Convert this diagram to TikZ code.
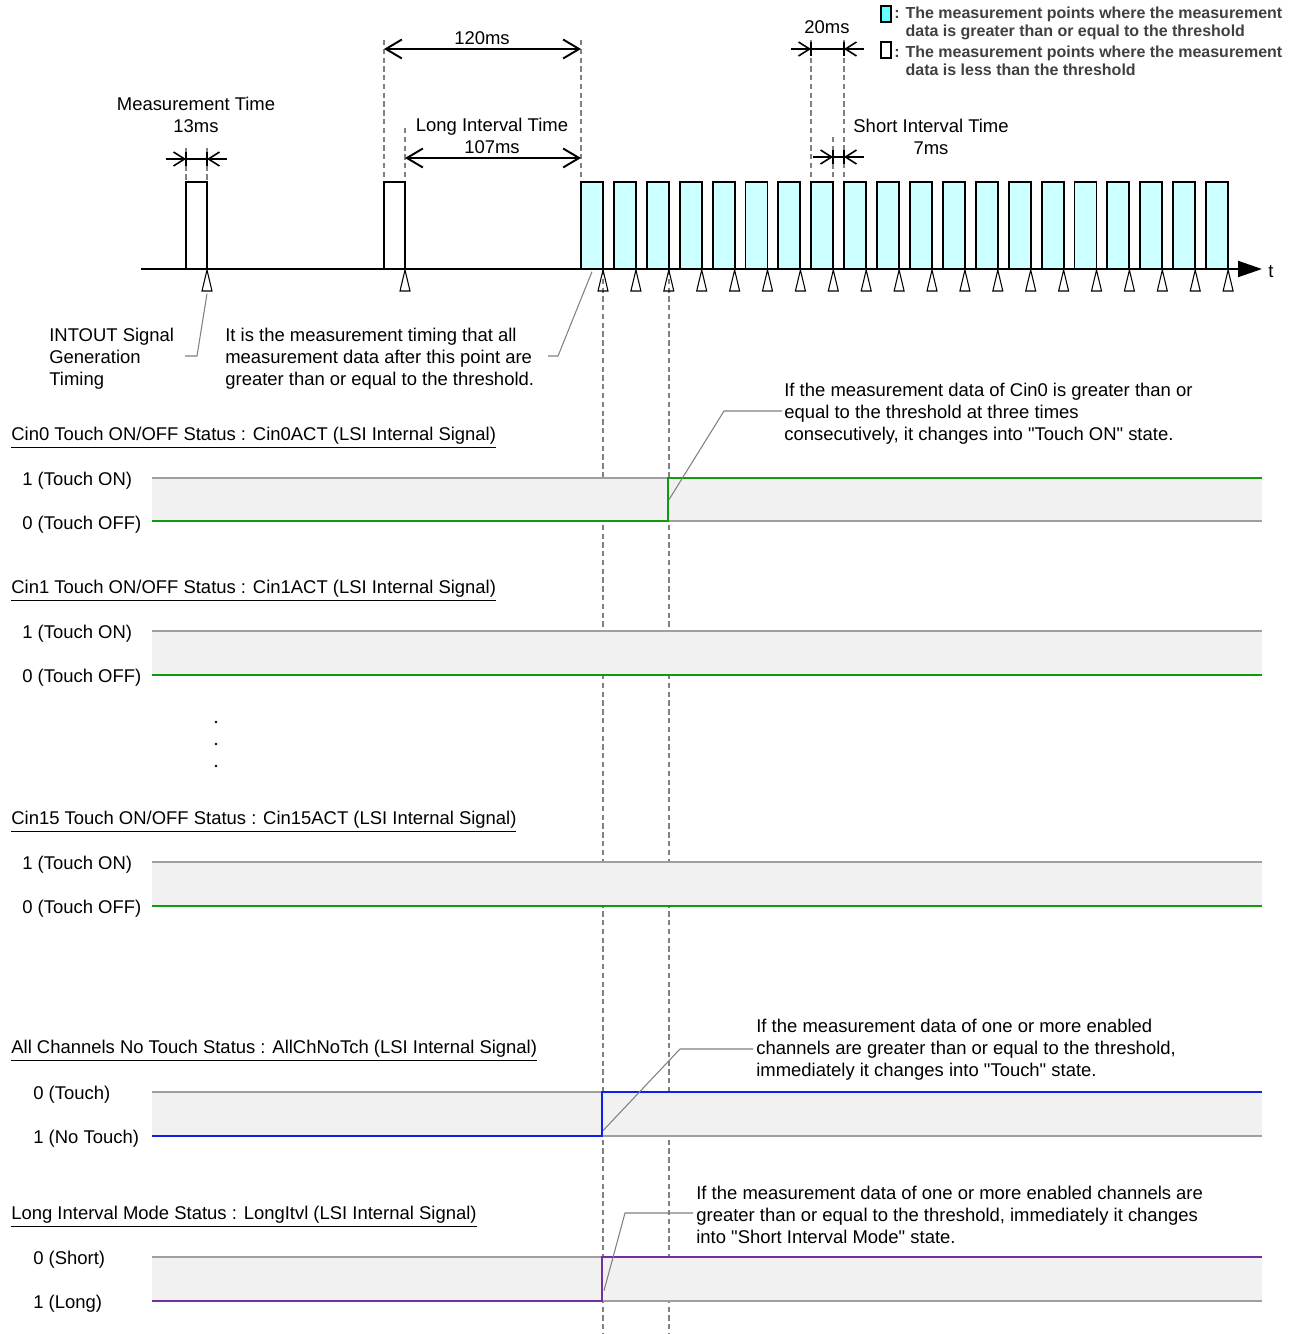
\documentclass[tikz,border=0pt]{standalone}
\usepackage{fontspec}
\setmainfont{Liberation Sans}
\usepackage{tikz}
\usetikzlibrary{arrows.meta,positioning}
\definecolor{PulseCyan}{HTML}{CCFFFF}
\definecolor{KeyCyan}{HTML}{66FFFF}
\definecolor{SigGreen}{HTML}{109A10}
\definecolor{SigBlue}{HTML}{1020E8}
\definecolor{SigPurple}{HTML}{7030A0}
\definecolor{BandGray}{HTML}{F1F1F1}
\definecolor{NoteGray}{HTML}{808080}
\definecolor{KeyText}{HTML}{404040}

\begin{document}
\begin{tikzpicture}[x=0.02cm, y=-0.02cm, every node/.style={font=\fontsize{10.5}{12.6}\selectfont, inner sep=0pt, yshift=-1.5pt}, pulse/.style={draw, line width=1.1pt}, trimark/.style={draw, line width=0.6pt}, guide/.style={densely dashed, color=NoteGray, line width=0.6pt}, dimarr/.style={{Straight Barb[length=3.2mm,width=3.8mm]}-{Straight Barb[length=3.2mm,width=3.8mm]}, line width=1.1pt}, inarr/.style={-{Straight Barb[length=2.2mm,width=2.8mm]}, line width=0.9pt}, band/.style={fill=BandGray, draw=none}, rail/.style={color=gray!75, line width=0.9pt}, leader/.style={color=NoteGray, line width=0.6pt}, sig/.style={line width=1.1pt}, title/.style={anchor=west}, note/.style={anchor=west, align=left}, key/.style={anchor=west, align=left, font=\fontsize{9.1}{10.5}\selectfont\bfseries, text=KeyText}]
\useasboundingbox (0,0) rectangle (1293,1334);
% legend
\draw[fill=KeyCyan, line width=0.6pt] (881,6) rectangle (891,22);
\draw[fill=white, line width=0.6pt] (881,42) rectangle (891,58);
\node[key] (keyhi) at (894,21) {: The measurement points where the measurement\\\hphantom{: }data is greater than or equal to the threshold};
\node[key] (keylo) at (894,58) {: The measurement points where the measurement\\\hphantom{: }data is less than the threshold};
% guides
\draw[guide] (384,40) -- (384,182); \draw[guide] (581,40) -- (581,182); \draw[guide] (405,128) -- (405,182);
\draw[guide] (186,148) -- (186,182); \draw[guide] (207,148) -- (207,182);
\draw[guide] (811,40) -- (811,182); \draw[guide] (844,40) -- (844,182); \draw[guide] (833,137) -- (833,182);
\draw[guide] (603,270) -- (603,1334); \draw[guide] (669,270) -- (669,1334);
% dimensions
\node (meastime) at (196,112) [align=center] {Measurement Time\\13ms};
\draw[inarr] (166,159) -- (186,159); \draw[line width=0.9pt] (186,159) -- (207,159); \draw[inarr] (227,159) -- (207,159);
\draw[line width=0.6pt] (186,152) -- (186,166); \draw[line width=0.6pt] (207,152) -- (207,166);
\node (total) at (482,36) {120ms};
\draw[dimarr] (384,49) -- (581,49);
\node (longint) at (492,133) [align=center] {Long Interval Time\\107ms};
\draw[dimarr] (405,158) -- (581,158);
\node (period) at (827,25) {20ms};
\draw[inarr] (791,49) -- (811,49); \draw[line width=0.9pt] (811,49) -- (844,49); \draw[inarr] (864,49) -- (844,49);
\draw[line width=0.6pt] (811,42) -- (811,56); \draw[line width=0.6pt] (844,42) -- (844,56);
\node (shortint) at (931,134) [align=center] {Short Interval Time\\7ms};
\draw[inarr] (813,157) -- (833,157); \draw[line width=0.9pt] (833,157) -- (844,157); \draw[inarr] (864,157) -- (844,157);
\draw[line width=0.6pt] (833,150) -- (833,164); \draw[line width=0.6pt] (844,150) -- (844,164);
% measurement pulses
\draw[pulse] (186,269) rectangle (207,182); \draw[trimark] (207,270) -- (202,291) -- (212,291) -- cycle;
\draw[pulse] (384,269) rectangle (405,182); \draw[trimark] (405,270) -- (400,291) -- (410,291) -- cycle;
\foreach \i in {0,...,19} {
  \draw[pulse, fill=PulseCyan] ({581+32.9*\i},269) rectangle ({603+32.9*\i},182);
  \draw[trimark] ({603+32.9*\i},270) -- ++(-5,21) -- ++(10,0) -- cycle;
}
\draw[-{Triangle[length=4.8mm,width=3.2mm]}, line width=1.1pt] (141,269) -- (1262,269);
\node (tlabel) at (1271,269) {t};
% notes on the pulses
\node[note] (intout) at (49,356) {INTOUT Signal\\Generation\\Timing};
\coordinate (intouttip) at (207,291);
\draw[leader] (185,356) -- (197,356) -- (intouttip);
\node[note] (allabove) at (225,356) {It is the measurement timing that all\\measurement data after this point are\\greater than or equal to the threshold.};
\coordinate (allabovetip) at (592,269);
\draw[leader] (548,356) -- (558,356) -- (allabovetip);
% Cin0
\node[title] (cin0) at (11,435) {\underline{Cin0 Touch ON/OFF Status : Cin0ACT (LSI Internal Signal)}};
\fill[band] (152,478) rectangle (1262,521);
\draw[rail] (152,478) -- (1262,478); \draw[rail] (152,521) -- (1262,521);
\node[anchor=west] (cin0hi) at (22,478) {1 (Touch ON)};
\node[anchor=west] (cin0lo) at (22,522) {0 (Touch OFF)};
\draw[sig, SigGreen] (152,521) -- (668,521) -- (668,478) -- (1262,478);
\node[note] (cin0note) at (784,411) {If the measurement data of Cin0 is greater than or\\equal to the threshold at three times\\consecutively, it changes into \textquotedbl Touch ON\textquotedbl\ state.};
\coordinate (cin0tip) at (669,497);
\draw[leader] (782,411) -- (724,411) -- (cin0tip);
% Cin1
\node[title] (cin1) at (11,588) {\underline{Cin1 Touch ON/OFF Status : Cin1ACT (LSI Internal Signal)}};
\fill[band] (152,631) rectangle (1262,675);
\draw[rail] (152,631) -- (1262,631); \draw[rail] (152,675) -- (1262,675);
\node[anchor=west] (cin1hi) at (22,631) {1 (Touch ON)};
\node[anchor=west] (cin1lo) at (22,675) {0 (Touch OFF)};
\draw[sig, SigGreen] (152,675) -- (1262,675);
\fill (216,722) circle (1.3); \fill (216,744) circle (1.3); \fill (216,766) circle (1.3);
% Cin15
\node[title] (cin15) at (11,819) {\underline{Cin15 Touch ON/OFF Status : Cin15ACT (LSI Internal Signal)}};
\fill[band] (152,862) rectangle (1262,906);
\draw[rail] (152,862) -- (1262,862); \draw[rail] (152,906) -- (1262,906);
\node[anchor=west] (cin15hi) at (22,862) {1 (Touch ON)};
\node[anchor=west] (cin15lo) at (22,906) {0 (Touch OFF)};
\draw[sig, SigGreen] (152,906) -- (1262,906);
% AllChNoTch
\node[title] (allch) at (11,1048) {\underline{All Channels No Touch Status : AllChNoTch (LSI Internal Signal)}};
\fill[band] (152,1092) rectangle (1262,1136);
\draw[rail] (152,1092) -- (1262,1092); \draw[rail] (152,1136) -- (1262,1136);
\node[anchor=west] (allchhi) at (33,1092) {0 (Touch)};
\node[anchor=west] (allchlo) at (33,1136) {1 (No Touch)};
\draw[sig, SigBlue] (152,1136) -- (602,1136) -- (602,1092) -- (1262,1092);
\node[note] (allchnote) at (756,1047) {If the measurement data of one or more enabled\\channels are greater than or equal to the threshold,\\immediately it changes into \textquotedbl Touch\textquotedbl\ state.};
\coordinate (allchtip) at (603,1128);
\draw[leader] (753,1049) -- (680,1049) -- (allchtip);
% LongItvl
\node[title] (longitvl) at (11,1214) {\underline{Long Interval Mode Status : LongItvl (LSI Internal Signal)}};
\fill[band] (152,1257) rectangle (1262,1301);
\draw[rail] (152,1257) -- (1262,1257); \draw[rail] (152,1301) -- (1262,1301);
\node[anchor=west] (longhi) at (33,1257) {0 (Short)};
\node[anchor=west] (longlo) at (33,1301) {1 (Long)};
\draw[sig, SigPurple] (152,1301) -- (602,1301) -- (602,1257) -- (1262,1257);
\node[note] (longnote) at (696,1212) {If the measurement data of one or more enabled channels are\\greater than or equal to the threshold, immediately it changes\\into \textquotedbl Short Interval Mode\textquotedbl\ state.};
\coordinate (longtip) at (604,1288);
\draw[leader] (693,1213) -- (625,1213) -- (longtip);
\end{tikzpicture}
\end{document}
